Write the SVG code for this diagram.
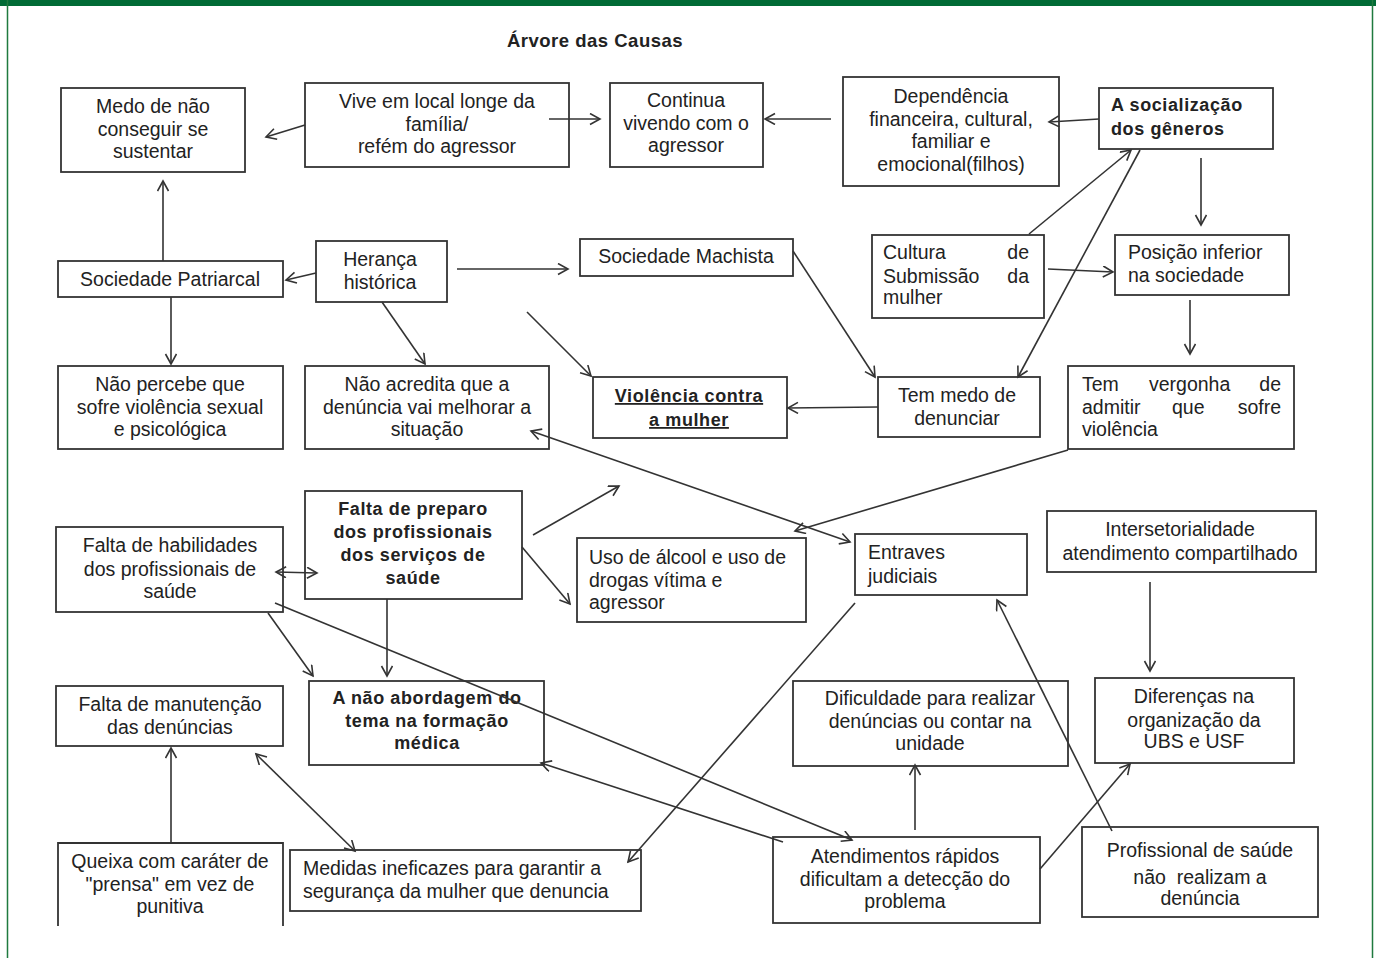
<svg xmlns="http://www.w3.org/2000/svg" width="1376" height="958" viewBox="0 0 1376 958">
<style>
.box{fill:#fff;stroke:#333;stroke-width:1.8}
.t{font-family:"Liberation Sans",Arial,sans-serif;font-size:19.5px;fill:#222;text-anchor:middle}
.l{text-anchor:start}
.e{text-anchor:end}
.b{font-weight:bold;font-size:18px;letter-spacing:0.6px}
.u{text-decoration:underline}
.c{fill:none;stroke:#333;stroke-width:1.6;marker-end:url(#ah)}
.d{marker-start:url(#ahs)}
</style>
<defs>
<marker id="ah" markerWidth="14" markerHeight="14" refX="11" refY="6" orient="auto" markerUnits="userSpaceOnUse"><path d="M1,0.5 L11,6 L1,11.5" fill="none" stroke="#333" stroke-width="1.6"/></marker>
<marker id="ahs" markerWidth="14" markerHeight="14" refX="11" refY="6" orient="auto-start-reverse" markerUnits="userSpaceOnUse"><path d="M1,0.5 L11,6 L1,11.5" fill="none" stroke="#333" stroke-width="1.6"/></marker>
</defs>
<rect x="0" y="0" width="1376" height="958" fill="#fff"/>
<g id="frame">
<rect x="0" y="0" width="1376" height="6" fill="#006b35"/>
<line x1="7.5" y1="0" x2="7.5" y2="958" stroke="#1f7a3f" stroke-width="1.5"/>
<line x1="1372.5" y1="0" x2="1372.5" y2="958" stroke="#1f7a3f" stroke-width="1.5"/>
</g>
<text id="title" class="t b" x="595" y="47" style="font-size:18.5px;letter-spacing:0.5px">Árvore das Causas</text>

<g id="n1"><rect class="box" x="61" y="88" width="184" height="84"/>
<text class="t" x="153" y="113">Medo de não</text><text class="t" x="153" y="136">conseguir se</text><text class="t" x="153" y="158">sustentar</text></g>
<g id="n2"><rect class="box" x="305" y="83" width="264" height="84"/>
<text class="t" x="437" y="108">Vive em local longe da</text><text class="t" x="437" y="131">família/</text><text class="t" x="437" y="153">refém do agressor</text></g>
<g id="n3"><rect class="box" x="610" y="83" width="153" height="84"/>
<text class="t" x="686" y="107">Continua</text><text class="t" x="686" y="130">vivendo com o</text><text class="t" x="686" y="152">agressor</text></g>
<g id="n4"><rect class="box" x="843" y="77" width="216" height="109"/>
<text class="t" x="951" y="103">Dependência</text><text class="t" x="951" y="126">financeira, cultural,</text><text class="t" x="951" y="148">familiar e</text><text class="t" x="951" y="171">emocional(filhos)</text></g>
<g id="n5"><rect class="box" x="1099" y="88" width="174" height="61"/>
<text class="t l b" x="1111" y="111">A socialização</text><text class="t l b" x="1111" y="135">dos gêneros</text></g>
<g id="n6"><rect class="box" x="58" y="261" width="225" height="36"/>
<text class="t" x="170" y="286">Sociedade Patriarcal</text></g>
<g id="n7"><rect class="box" x="316" y="241" width="131" height="61"/>
<text class="t" x="380" y="266">Herança</text><text class="t" x="380" y="289">histórica</text></g>
<g id="n8"><rect class="box" x="580" y="239" width="213" height="37"/>
<text class="t" x="686" y="263">Sociedade Machista</text></g>
<g id="n9"><rect class="box" x="872" y="235" width="172" height="83"/>
<text class="t l" x="883" y="259">Cultura</text><text class="t e" x="1029" y="259">de</text>
<text class="t l" x="883" y="283">Submissão</text><text class="t e" x="1029" y="283">da</text>
<text class="t l" x="883" y="304">mulher</text></g>
<g id="n10"><rect class="box" x="1115" y="235" width="174" height="60"/>
<text class="t l" x="1128" y="259">Posição inferior</text><text class="t l" x="1128" y="282">na sociedade</text></g>
<g id="n11"><rect class="box" x="58" y="366" width="225" height="83"/>
<text class="t" x="170" y="391">Não percebe que</text><text class="t" x="170" y="414">sofre violência sexual</text><text class="t" x="170" y="436">e psicológica</text></g>
<g id="n12"><rect class="box" x="305" y="366" width="244" height="83"/>
<text class="t" x="427" y="391">Não acredita que a</text><text class="t" x="427" y="414">denúncia vai melhorar a</text><text class="t" x="427" y="436">situação</text></g>
<g id="n13"><rect class="box" x="593" y="377" width="194" height="61"/>
<text class="t b u" x="689" y="402">Violência contra</text><text class="t b u" x="689" y="426">a mulher</text></g>
<g id="n14"><rect class="box" x="878" y="377" width="162" height="60"/>
<text class="t" x="957" y="402">Tem medo de</text><text class="t" x="957" y="425">denunciar</text></g>
<g id="n15"><rect class="box" x="1068" y="366" width="226" height="83"/>
<text class="t l" x="1082" y="391">Tem</text><text class="t l" x="1149" y="391">vergonha</text><text class="t e" x="1281" y="391">de</text>
<text class="t l" x="1082" y="414">admitir</text><text class="t l" x="1172" y="414">que</text><text class="t e" x="1281" y="414">sofre</text>
<text class="t l" x="1082" y="436">violência</text></g>
<g id="n16"><rect class="box" x="56" y="527" width="227" height="85"/>
<text class="t" x="170" y="552">Falta de habilidades</text><text class="t" x="170" y="576">dos profissionais de</text><text class="t" x="170" y="598">saúde</text></g>
<g id="n17"><rect class="box" x="305" y="491" width="217" height="108"/>
<text class="t b" x="413" y="515">Falta de preparo</text><text class="t b" x="413" y="538">dos profissionais</text><text class="t b" x="413" y="561">dos serviços de</text><text class="t b" x="413" y="584">saúde</text></g>
<g id="n18"><rect class="box" x="577" y="538" width="229" height="84"/>
<text class="t l" x="589" y="564" textLength="197" lengthAdjust="spacing">Uso de álcool e uso de</text><text class="t l" x="589" y="587">drogas vítima e</text><text class="t l" x="589" y="609">agressor</text></g>
<g id="n19"><rect class="box" x="855" y="534" width="172" height="61"/>
<text class="t l" x="868" y="559">Entraves</text><text class="t l" x="868" y="583">judiciais</text></g>
<g id="n20"><rect class="box" x="1047" y="511" width="269" height="61"/>
<text class="t" x="1180" y="536">Intersetorialidade</text><text class="t" x="1180" y="560">atendimento compartilhado</text></g>
<g id="n21"><rect class="box" x="56" y="686" width="227" height="60"/>
<text class="t" x="170" y="711">Falta de manutenção</text><text class="t" x="170" y="734">das denúncias</text></g>
<g id="n22"><rect class="box" x="309" y="681" width="235" height="84"/>
<text class="t b" x="427" y="704">A não abordagem do</text><text class="t b" x="427" y="727">tema na formação</text><text class="t b" x="427" y="749">médica</text></g>
<g id="n23"><path class="box" d="M58,926 V843 H283 V926"/>
<text class="t" x="170" y="868">Queixa com caráter de</text><text class="t" x="170" y="891">"prensa" em vez de</text><text class="t" x="170" y="913">punitiva</text></g>
<g id="n24"><rect class="box" x="290" y="850" width="351" height="61"/>
<text class="t l" x="303" y="875">Medidas ineficazes para garantir a</text><text class="t l" x="303" y="898">segurança da mulher que denuncia</text></g>
<g id="n25"><rect class="box" x="793" y="681" width="275" height="85"/>
<text class="t" x="930" y="705">Dificuldade para realizar</text><text class="t" x="930" y="728">denúncias ou contar na</text><text class="t" x="930" y="750">unidade</text></g>
<g id="n26"><rect class="box" x="1095" y="678" width="199" height="85"/>
<text class="t" x="1194" y="703">Diferenças na</text><text class="t" x="1194" y="727">organização da</text><text class="t" x="1194" y="748">UBS e USF</text></g>
<g id="n27"><rect class="box" x="773" y="837" width="267" height="86"/>
<text class="t" x="905" y="863">Atendimentos rápidos</text><text class="t" x="905" y="886">dificultam a detecção do</text><text class="t" x="905" y="908">problema</text></g>
<g id="n28"><rect class="box" x="1082" y="827" width="236" height="90"/>
<text class="t" x="1200" y="857" style="white-space:pre">Profissional de saúde</text><text class="t" x="1200" y="884" style="white-space:pre">não  realizam a</text><text class="t" x="1200" y="905">denúncia</text></g>

<g id="connectors">
<path class="c" d="M305,125 L266,137"/>
<path class="c" d="M549,119 L600,119"/>
<path class="c" d="M831,119 L765,119"/>
<path class="c" d="M1099,119 L1049,122"/>
<path class="c" d="M1029,234 L1131,150"/>
<path class="c" d="M1140,150 L1018,377"/>
<path class="c" d="M1201,158 L1201,225"/>
<path class="c" d="M1048,269 L1113,272"/>
<path class="c" d="M1190,300 L1190,354"/>
<path class="c" d="M316,273 L286,280"/>
<path class="c" d="M163,261 L163,181"/>
<path class="c" d="M171,297 L171,364"/>
<path class="c" d="M382,302 L425,364"/>
<path class="c" d="M457,269 L568,269"/>
<path class="c" d="M527,312 L591,376"/>
<path class="c" d="M793,251 L875,377"/>
<path class="c" d="M878,407 L788,408"/>
<path class="c d" d="M531,431 L850,542"/>
<path class="c" d="M1068,450 L795,531"/>
<path class="c" d="M533,535 L619,486"/>
<path class="c" d="M522,547 L570,604"/>
<path class="c d" d="M276,572 L317,573"/>
<path class="c" d="M387,599 L387,676"/>
<path class="c" d="M268,613 L313,676"/>
<path class="c" d="M275,603 L852,840"/>
<path class="c" d="M783,842 L541,763"/>
<path class="c" d="M855,603 L628,862"/>
<path class="c d" d="M256,754 L355,851"/>
<path class="c" d="M171,843 L171,748"/>
<path class="c" d="M915,830 L915,765"/>
<path class="c" d="M1040,869 L1130,764"/>
<path class="c" d="M1112,831 L997,600"/>
<path class="c" d="M1150,582 L1150,671"/>
</g>
</svg>
